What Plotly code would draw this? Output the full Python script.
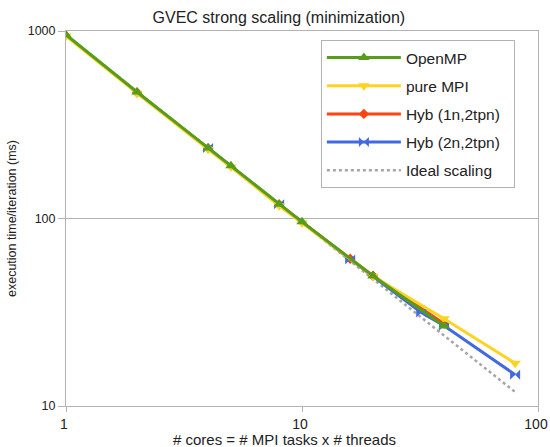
import plotly.graph_objects as go

# Data
omp_x = [1, 2, 4, 5, 8, 10, 20, 40]
omp_y = [955, 473, 238, 191, 119, 96, 49.4, 26.7]

mpi_x = [1, 2, 4, 5, 8, 10, 20, 40, 80]
mpi_y = [940, 466, 234, 188, 117, 94.5, 49.2, 29.2, 16.9]

hyb1_x = [2, 4, 8, 16, 20, 40]
hyb1_y = [470, 237, 119, 61, 49.5, 27.5]

hyb2_x = [4, 8, 16, 32, 40, 80]
hyb2_y = [238, 119, 60.5, 31.5, 26.8, 14.7]

ideal_x = [1, 80]
ideal_y = [950, 950 / 80]

names = ["OpenMP", "pure MPI", "Hyb (1n,2tpn)", "Hyb (2n,2tpn)", "Ideal scaling"]
colors = ["#579d1c", "#ffd320", "#ff420e", "#4169e1", "#a6a6a6"]
symbols = ["triangle-up", "triangle-down", "diamond", "bowtie", None]
msizes = [10, 10, 8, 10]

pad = "\u00a0" * 2  # extra room on the right of the legend box

fig = go.Figure()
series = [(omp_x, omp_y), (mpi_x, mpi_y), (hyb1_x, hyb1_y), (hyb2_x, hyb2_y)]
order = [2, 3, 1, 0]
traces = {}
for i in range(4):
    x, y = series[i]
    traces[i] = go.Scatter(
        x=x, y=y, name=names[i] + (pad if i == 2 else ""), mode="lines+markers",
        line=dict(color=colors[i], width=3),
        marker=dict(symbol=symbols[i], size=msizes[i], color=colors[i]),
        legendgroup=str(i), legendrank=i + 1,
    )
fig.add_trace(go.Scatter(
    x=ideal_x, y=ideal_y, name=names[4], mode="lines",
    line=dict(color=colors[4], width=2.5, dash="dot"),
    legendgroup="4", legendrank=5,
))
for i in order:
    fig.add_trace(traces[i])

txt = "#222222"
fig.update_layout(
    width=550, height=447,
    margin=dict(l=66, r=12, t=31, b=41),
    paper_bgcolor="white", plot_bgcolor="white",
    font=dict(family="Liberation Sans, Arial, sans-serif", color=txt),
    title=dict(text="GVEC strong scaling (minimization)", x=0.507, xref="container",
               y=0.962, yref="container", xanchor="center", yanchor="middle",
               font=dict(size=16, color=txt)),
    legend=dict(
        x=0.54, y=0.976, xanchor="left", yanchor="top",
        bordercolor="#b3b3b3", borderwidth=1, bgcolor="white",
        font=dict(size=15.5, color=txt),
        tracegroupgap=5, traceorder="grouped",
        itemwidth=74,
    ),
    xaxis=dict(
        type="log", range=[0, 2], automargin=False,
        tickvals=[1, 10, 100], ticktext=["1", "10", "100"],
        ticks="outside", ticklen=5, tickcolor="#b3b3b3",
        ticklabeloverflow="allow", ticklabelshift=-2,
        showgrid=False, showline=True, linecolor="#b3b3b3", mirror=True,
        tickfont=dict(size=14, color=txt),
        zeroline=False,
    ),
    yaxis=dict(
        type="log", range=[1, 3], automargin=False,
        tickvals=[10, 100, 1000], ticktext=["10", "100", "1000"],
        ticks="outside", ticklen=7, tickcolor="#b3b3b3",
        showgrid=True, gridcolor="#b3b3b3", gridwidth=1,
        showline=True, linecolor="#b3b3b3", mirror=True,
        tickfont=dict(size=12.5, color=txt),
        title=dict(text="execution time/iteration (ms)", font=dict(size=12.5, color=txt), standoff=8),
        zeroline=False,
    ),
    annotations=[dict(
        text="# cores = # MPI tasks x # threads", xref="paper", yref="paper",
        x=0.462, y=-0.09, xanchor="center", yanchor="middle", showarrow=False,
        font=dict(size=15, color=txt),
    )],
)

fig.write_html("out.html")
